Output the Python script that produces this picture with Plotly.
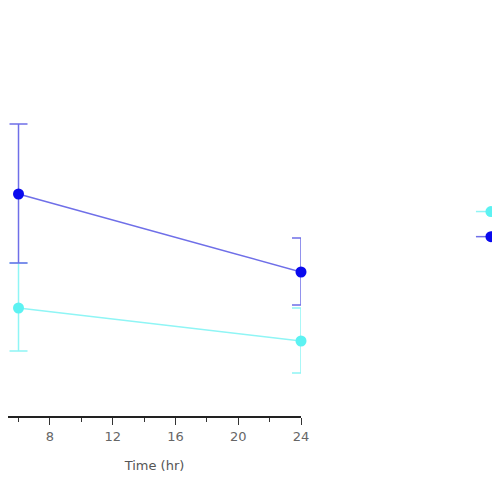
import plotly.graph_objects as go

time = [6, 24]
low_mean = [27, 18.75]
low_err_up = [11.25, 8.25]
low_err_down = [10.75, 8]
high_mean = [55.5, 36]
high_err_up = [17.5, 8.5]
high_err_down = [17.25, 8.25]

fig = go.Figure()
fig.add_trace(go.Scatter(
    x=time, y=low_mean, name='', mode='lines+markers',
    line=dict(color='#8ff5f5', width=1.5),
    marker=dict(color='#5cf2f2', size=11),
    error_y=dict(type='data', array=low_err_up, arrayminus=low_err_down,
                 color='#8ff5f5', thickness=1.5, width=9),
    cliponaxis=False))
fig.add_trace(go.Scatter(
    x=time, y=high_mean, name='', mode='lines+markers',
    line=dict(color='#6f6fe8', width=1.5),
    marker=dict(color='#0a0aee', size=11),
    error_y=dict(type='data', array=high_err_up, arrayminus=high_err_down,
                 color='#6f6fe8', thickness=1.5, width=9),
    cliponaxis=False))

fig.add_shape(type='line', xref='paper', yref='paper', x0=1.696, x1=1.696,
              y0=0.39, y1=0.57, line=dict(color='#888888', width=1))

fig.update_layout(
    width=500, height=500,
    margin=dict(l=0, r=207, t=8, b=92, autoexpand=False),
    plot_bgcolor='white', paper_bgcolor='white',
    showlegend=True,
    legend=dict(x=1.58, y=0.555, xanchor='left', yanchor='top',
                font=dict(size=17), itemwidth=30, tracegroupgap=0,
                bgcolor='rgba(0,0,0,0)'),
    xaxis=dict(range=[5.33, 24], tickmode='array', tickvals=[8, 12, 16, 20, 24],
               ticks='outside', ticklen=7, tickcolor='#333', showline=True,
               linecolor='#222', linewidth=2, showgrid=False, zeroline=False,
               tickfont=dict(family='DejaVu Sans', size=13, color='#666'),
               minor=dict(dtick=2, tick0=0, ticks='outside', ticklen=4, tickcolor='#333'),
               title=dict(text='Time (hr)', font=dict(family='DejaVu Sans', size=13, color='#555'),
                          standoff=18)),
    yaxis=dict(range=[0, 100], visible=False, showgrid=False),
)

fig.write_html("out.html")
